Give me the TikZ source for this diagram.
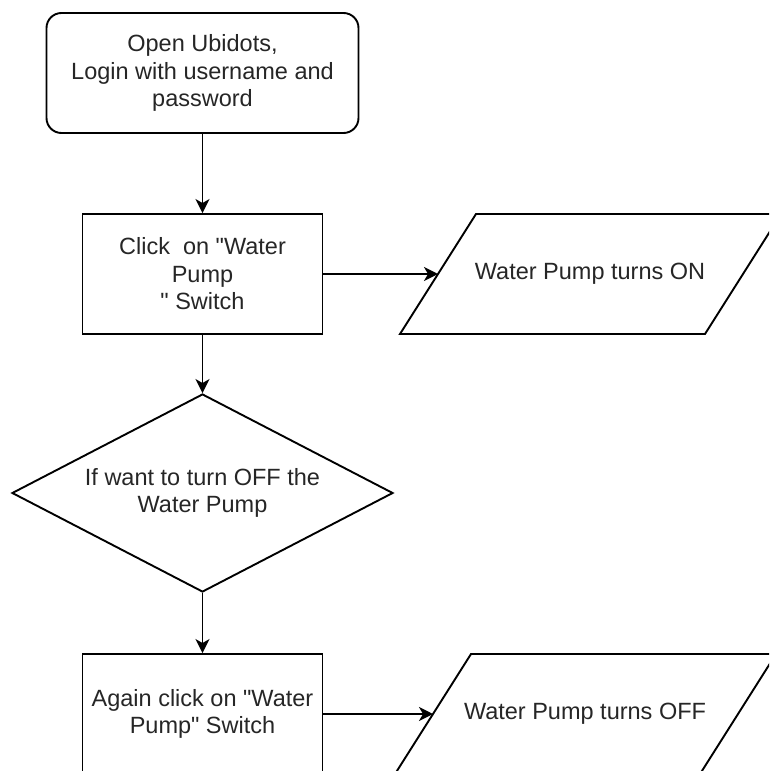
\documentclass[tikz,border=0pt]{standalone}
\usepackage{fontspec}
\setmainfont{Liberation Sans}
% a family without the TeX input mapping, so " stays a straight double quote
\newfontfamily\labelfont{Liberation Sans}
\usetikzlibrary{shapes.geometric,arrows.meta}
\begin{document}
\begin{tikzpicture}[x=1pt,y=-1pt,
  every node/.style={font=\labelfont\fontsize{23.5}{27.5}\selectfont, text=black!85, align=center},
  box/.style={draw=black, line width=1.9pt, minimum width=240pt, minimum height=120pt, inner sep=0pt},
  startbox/.style={box, rounded corners=15pt, minimum width=312pt},
  decision/.style={draw=black, diamond, aspect=1.924, line width=1.9pt, minimum width=381pt, minimum height=198pt, inner sep=0pt},
  io/.style={draw=black, line width=1.9pt, line join=miter},
  flow/.style={draw=black, line width=1.9pt, -{Stealth[length=14pt,width=14pt,inset=4pt]}}
]
\clip (0,0) rectangle (769,771);
\fill[white] (0,0) rectangle (769,771);

% process steps
\node[startbox] (open) at (202.5,73) {Open Ubidots,\\Login with username and\\password};
\node[box] (click) at (202.5,274) {Click\ \ on "Water\\Pump\\"\ Switch};
\node[decision] (ask) at (202.5,493) {If want to turn OFF the\\Water Pump};
\node[box] (again) at (202.5,714) {Again click on "Water\\Pump"\ Switch};

% output parallelograms
\draw[io] (400,334) -- (476,214) -- (781,214) -- (705,334) -- cycle;
\node (on) at (590,274) {Water Pump turns ON};
\coordinate (onin) at (438,274);

\draw[io] (395,774) -- (471,654) -- (776,654) -- (700,774) -- cycle;
\node (off) at (585,714) {Water Pump turns OFF};
\coordinate (offin) at (433,714);

% connectors
\draw[flow] (open) -- (click);
\draw[flow] (click) -- (onin);
\draw[flow] (click) -- (ask);
\draw[flow] (ask) -- (again);
\draw[flow] (again) -- (offin);
\end{tikzpicture}
\end{document}
